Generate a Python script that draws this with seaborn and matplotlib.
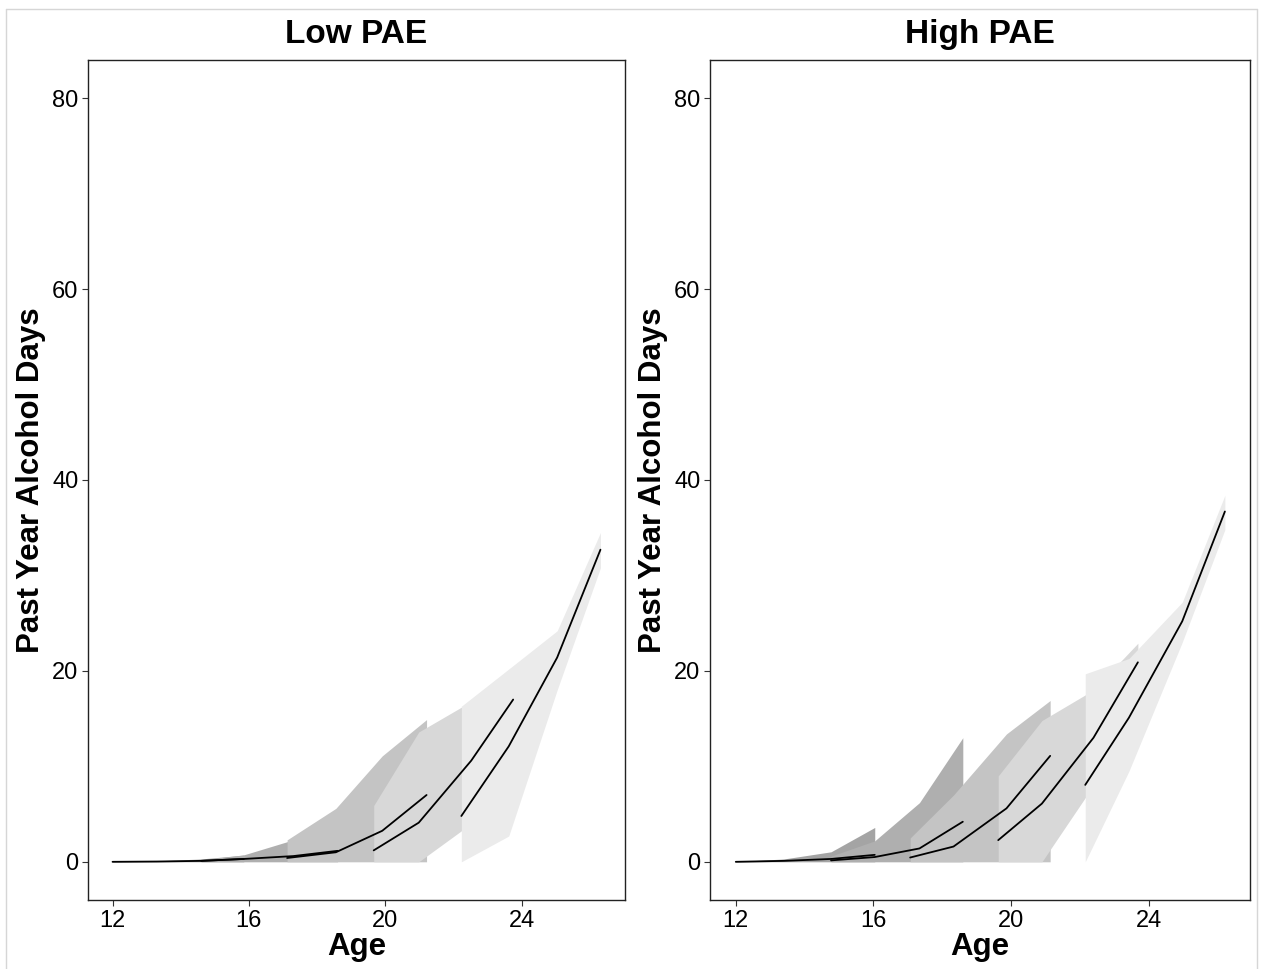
import pandas as pd
import matplotlib
matplotlib.use("Agg")
import matplotlib.pyplot as plt
import seaborn as sns
from matplotlib.lines import Line2D

# Cohort data (age, fitted days, lower, upper)
panels = ["Low PAE", "High PAE"]
cohorts = [1, 2, 3, 4, 5]
fills = ["#a4a4a4", "#afafaf", "#c4c4c4", "#d8d8d8", "#ebebeb"]

# Low PAE
low_age = [
    [12.0, 13.3, 14.6, 15.85],
    [14.6, 15.85, 17.3, 18.6],
    [17.12, 18.55, 19.91, 21.21],
    [19.66, 20.98, 22.52, 23.75],
    [22.23, 23.62, 25.04, 26.31],
]
low_val = [
    [0.0, 0.03, 0.1, 0.3],
    [0.1, 0.3, 0.6, 1.15],
    [0.4, 1.0, 3.25, 7.0],
    [1.2, 4.1, 10.6, 17.0],
    [4.8, 12.1, 21.4, 32.7],
]
low_lo = [
    [0.0, 0.0, 0.0, 0.0],
    [0.0, 0.0, 0.0, 0.0],
    [0.0, 0.0, 0.0, 0.0],
    [0.0, 0.0, 4.0, 9.0],
    [0.0, 2.7, 18.0, 30.8],
]
low_hi = [
    [0.02, 0.1, 0.3, 0.7],
    [0.2, 0.73, 2.3, 5.3],
    [2.3, 5.6, 11.1, 14.9],
    [5.9, 13.6, 16.8, 19.0],
    [16.3, 20.2, 24.2, 34.5],
]

# High PAE
high_age = [
    [12.0, 13.4, 14.77, 16.04],
    [14.77, 16.04, 17.34, 18.6],
    [17.07, 18.33, 19.87, 21.14],
    [19.63, 20.9, 22.4, 23.69],
    [22.16, 23.43, 24.98, 26.22],
]
high_val = [
    [0.0, 0.1, 0.3, 0.73],
    [0.15, 0.5, 1.4, 4.2],
    [0.45, 1.6, 5.6, 11.1],
    [2.27, 6.1, 13.0, 20.9],
    [8.06, 15.1, 25.2, 36.7],
]
high_lo = [
    [0.0, 0.0, 0.0, 0.0],
    [0.0, 0.0, 0.0, 0.0],
    [0.0, 0.0, 0.0, 0.0],
    [0.0, 0.0, 8.0, 15.0],
    [0.0, 9.5, 23.0, 34.8],
]
high_hi = [
    [0.02, 0.3, 1.05, 3.6],
    [0.6, 2.2, 6.2, 13.0],
    [2.5, 7.0, 13.4, 16.9],
    [9.0, 14.8, 18.0, 22.9],
    [19.7, 21.3, 27.2, 38.4],
]

xticks = [12, 16, 20, 24]
yticks = [0, 20, 40, 60, 80]

# long table
rows = []
for p, (ages, vals, los, his) in zip(panels, [(low_age, low_val, low_lo, low_hi),
                                              (high_age, high_val, high_lo, high_hi)]):
    for c, a, v, lo, hi in zip(cohorts, ages, vals, los, his):
        for i in range(len(a)):
            rows.append({"panel": p, "cohort": c, "age": a[i], "days": v[i],
                         "lower": lo[i], "upper": hi[i]})
df = pd.DataFrame(rows)

sns.set_theme(style="white")
plt.rcParams["font.family"] = ["Liberation Sans", "DejaVu Sans"]
plt.rcParams["text.color"] = "black"
plt.rcParams["axes.labelcolor"] = "black"

fig = plt.figure(figsize=(12.66, 9.69), dpi=100)
W, H = 1266, 969
ax_pos = [(88, 60, 625, 900), (710, 60, 1250, 900)]
xlims = [(11.28, 27.03), (11.25, 26.95)]

for p, pos, xl in zip(panels, ax_pos, xlims):
    x0, y0, x1, y1 = pos
    ax = fig.add_axes([x0 / W, 1 - y1 / H, (x1 - x0) / W, (y1 - y0) / H])
    d = df[df["panel"] == p]
    for c, col in zip(cohorts, fills):
        dc = d[d["cohort"] == c]
        ax.fill_between(dc["age"], dc["lower"], dc["upper"], color=col, linewidth=0, zorder=1)
    sns.lineplot(data=d, x="age", y="days", units="cohort", estimator=None,
                 color="black", linewidth=1.3, ax=ax, zorder=3)
    ax.set_xlim(xl)
    ax.set_ylim(-4, 84)
    ax.set_xticks(xticks)
    ax.set_yticks(yticks)
    ax.tick_params(axis="both", labelsize=17, length=4, width=0.8, color="#333333",
                   direction="out", bottom=True, left=True, pad=3, labelcolor="black")
    for s in ax.spines.values():
        s.set_color("#222222")
        s.set_linewidth(1.0)
    ax.set_title(p, fontsize=24, fontweight="bold", pad=12, color="black")
    ax.set_xlabel("Age", fontsize=22.5, fontweight="bold", labelpad=0)
    ax.set_ylabel("Past Year Alcohol Days", fontsize=22.5, fontweight="bold", labelpad=4)

# faint page border
border = "#d6d6d6"
fig.add_artist(Line2D([6 / W, 1257 / W], [1 - 9 / H, 1 - 9 / H], color=border, lw=1, transform=fig.transFigure))
fig.add_artist(Line2D([6 / W, 6 / W], [1 - 9 / H, 0], color=border, lw=1, transform=fig.transFigure))
fig.add_artist(Line2D([1257 / W, 1257 / W], [1 - 9 / H, 0], color=border, lw=1, transform=fig.transFigure))

fig.savefig("out.png", dpi=100, facecolor="white")
